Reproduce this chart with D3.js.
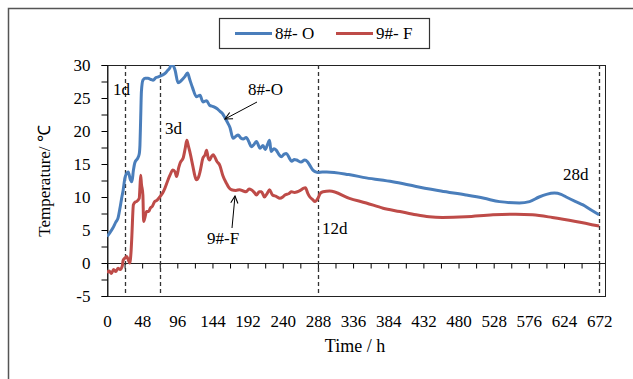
<!DOCTYPE html>
<html>
<head>
<meta charset="utf-8">
<script src="https://cdn.jsdelivr.net/npm/d3@7"></script>
<style>
  body { margin: 0; background: #fff; }
  svg { display: block; font-family: "Liberation Serif", "Times New Roman", serif; }
</style>
</head>
<body>
<script>
// hours and temperatures
var hours8 = [0, 4, 8, 12, 15, 18, 20, 22, 24.5, 27, 29, 32, 34, 36, 38, 42, 44, 45, 46, 47, 49, 52, 56, 60, 63, 67, 70, 76, 80, 83, 86, 88, 91, 93, 97, 102, 106, 110, 113, 117, 122, 127, 131, 136, 140, 145, 150, 154, 158, 161, 165, 168, 172, 176, 179, 183, 186, 190, 194, 197, 201, 204, 209, 213, 216, 219, 222, 224, 228, 231, 235, 238, 242, 245, 249, 252, 256, 259, 265, 270, 274, 278, 281, 285, 288, 294, 300, 330, 354, 390, 422, 456, 490, 515, 536, 563, 577, 590, 600, 611, 620, 627, 640, 650, 660, 672];
var temps8 = [4.0, 4.6, 5.3, 6.2, 6.8, 8.5, 9.8, 11, 12.9, 13.6, 13.8, 12.6, 12.3, 14.0, 15.2, 15.9, 16.5, 17.9, 22, 26, 27.7, 28.0, 28.0, 27.8, 27.7, 28.1, 28.2, 28.5, 28.8, 29.2, 29.6, 30.2, 29.8, 29.2, 27.3, 27.7, 28.2, 28.8, 27.8, 26.5, 25.2, 25.4, 24.4, 24.6, 23.9, 23.7, 23.4, 23.0, 22.6, 22.0, 21.2, 20.5, 18.9, 19.2, 19.4, 18.9, 18.8, 19.0, 18.3, 17.6, 18.0, 18.4, 17.4, 17.8, 17.2, 17.9, 18.6, 16.9, 17.3, 17.1, 16.4, 16.1, 16.5, 16.6, 15.9, 15.4, 15.7, 15.6, 15.3, 15.6, 15.3, 14.6, 14.1, 13.8, 13.7, 13.8, 13.8, 13.4, 12.9, 12.3, 11.6, 10.9, 10.3, 9.8, 9.3, 9.1, 9.3, 10.0, 10.4, 10.6, 10.4, 10.0, 9.3, 8.8, 8.1, 7.3];

var hours9 = [0, 3, 6, 9, 12, 15, 18, 21, 22, 25, 27, 29, 31, 33, 34, 36, 38, 40, 44, 45, 46, 47, 49, 50, 52, 54, 57, 59, 62, 65, 68, 72, 76, 79, 83, 86, 90, 93, 95, 98, 100, 104, 107, 109, 111, 113, 117, 120, 122, 125, 127, 131, 134, 136, 138, 140, 143, 145, 147, 150, 154, 158, 163, 166, 170, 176, 181, 186, 190, 194, 197, 201, 204, 208, 211, 215, 219, 222, 226, 231, 236, 240, 243, 248, 252, 256, 260, 264, 268, 271, 274, 277, 281, 284, 288, 291, 295, 304, 331, 354, 377, 400, 422, 440, 458, 490, 527, 558, 581, 608, 640, 672];
var temps9 = [-1.5, -1.2, -1.6, -1.0, -1.3, -0.8, -1.0, -0.4, 0.4, 0.8, 1.0, 0.5, 0.0, 2.0, 4.2, 8.8, 9.2, 9.3, 9.8, 11.5, 13.3, 12.0, 10.3, 6.3, 7.0, 7.8, 7.8, 8.3, 8.6, 9.3, 9.5, 10.0, 10.6, 11.3, 12.5, 13.3, 14.1, 13.8, 13.1, 14.5, 15.2, 15.9, 17.5, 18.6, 17.8, 16.9, 14.8, 13.2, 12.6, 13.0, 13.8, 15.9, 16.4, 17.1, 16.0, 15.6, 16.2, 16.4, 16.1, 15.4, 14.8, 13.3, 12.1, 11.5, 11.1, 11.0, 11.1, 10.9, 10.8, 11.2, 11.1, 10.7, 10.3, 10.8, 10.8, 10.0, 10.6, 11.1, 10.3, 10.1, 9.8, 10.0, 10.3, 10.5, 10.8, 10.7, 10.8, 11.0, 11.3, 11.4, 10.6, 10.0, 9.6, 9.3, 9.8, 10.5, 10.8, 10.9, 9.8, 9.1, 8.3, 7.8, 7.3, 7.0, 6.9, 7.0, 7.3, 7.4, 7.3, 6.9, 6.3, 5.6];

var seriesNames = ["8#- O", "9#- F"];
var seriesColors = ["#4a7ebb", "#be4b48"];
var xTicks = d3.range(0, 673, 48);
var xMinorTicks = d3.range(0, 673, 24);
var yMinorTicks = d3.range(-5, 30.1, 2.5);
var dayMarks = [24, 72, 288, 672];
var dayLabels = ["1d", "3d", "12d", "28d"];

var width = 633, height = 379;
var plotLeft = 107, plotRight = 605, plotTop = 65, plotBottom = 296;

var svg = d3.select("body").append("svg")
    .attr("width", width)
    .attr("height", height);

// outer chart frame (cut off at right / bottom)
svg.append("path")
    .attr("d", "M8.5," + (height + 5) + "V8.5H" + (width + 5))
    .attr("fill", "none")
    .attr("stroke", "#555")
    .attr("stroke-width", 1.5);

var x = d3.scaleLinear().domain([0, 680]).range([plotLeft, plotRight]);
var y = d3.scaleLinear().domain([-5, 30]).range([plotBottom, plotTop]);

// plot area box
svg.append("rect")
    .attr("x", plotLeft + 0.5)
    .attr("y", plotTop + 0.5)
    .attr("width", plotRight - plotLeft)
    .attr("height", plotBottom - plotTop)
    .attr("fill", "none")
    .attr("stroke", "#222")
    .attr("stroke-width", 1);

// y axis
var yAxis = svg.append("g")
    .attr("transform", "translate(" + (plotLeft + 0.5) + ",0)")
    .call(d3.axisLeft(y)
        .tickValues(yMinorTicks)
        .tickSize(6)
        .tickPadding(11)
        .tickFormat(function(d) { return d % 5 == 0 ? d : ""; }));
yAxis.select(".domain").attr("stroke", "#222");
yAxis.selectAll("text").attr("font-size", 17).attr("fill", "#000")
    .attr("font-family", "Liberation Serif");

// x axis on the zero line, with minor ticks
var xAxis = svg.append("g")
    .attr("transform", "translate(0," + (Math.round(y(0)) + 0.5) + ")")
    .call(d3.axisBottom(x)
        .tickValues(xMinorTicks)
        .tickSize(5)
        .tickSizeOuter(0)
        .tickFormat(""));
xAxis.select(".domain").attr("stroke", "#222").attr("d", "M" + plotLeft + ",0H" + plotRight);

// x tick labels below the plot
var xLabels = svg.append("g")
    .attr("transform", "translate(0," + plotBottom + ")")
    .call(d3.axisBottom(x)
        .tickValues(xTicks)
        .tickSize(0)
        .tickPadding(19));
xLabels.select(".domain").remove();
xLabels.selectAll("text").attr("font-size", 17).attr("fill", "#000")
    .attr("font-family", "Liberation Serif");

// day markers
svg.selectAll(".day")
    .data(dayMarks)
    .enter()
    .append("line")
    .attr("class", "day")
    .attr("x1", function(d) { return Math.round(x(d)) + 0.5; })
    .attr("x2", function(d) { return Math.round(x(d)) + 0.5; })
    .attr("y1", plotTop)
    .attr("y2", plotBottom)
    .attr("stroke", "#333")
    .attr("stroke-width", 1.3)
    .attr("stroke-dasharray", "4,3");

var dayPos = [[113, 95], [165, 134], [322, 234], [563, 180]];
svg.selectAll(".daylabel")
    .data(dayLabels)
    .enter()
    .append("text")
    .attr("class", "daylabel")
    .attr("x", function(d, i) { return dayPos[i][0]; })
    .attr("y", function(d, i) { return dayPos[i][1]; })
    .attr("font-size", 17)
    .text(function(d) { return d; });

// series
svg.append("clipPath").attr("id", "plot")
    .append("rect")
    .attr("x", plotLeft).attr("y", plotTop)
    .attr("width", plotRight - plotLeft).attr("height", plotBottom - plotTop);

var line = d3.line()
    .x(function(d) { return x(d[0]); })
    .y(function(d) { return y(d[1]); })
    .curve(d3.curveMonotoneX);

var series = [d3.zip(hours8, temps8), d3.zip(hours9, temps9)];

svg.append("g")
    .attr("clip-path", "url(#plot)")
    .selectAll("path")
    .data(series)
    .enter()
    .append("path")
    .attr("d", line)
    .attr("fill", "none")
    .attr("stroke", function(d, i) { return seriesColors[i]; })
    .attr("stroke-width", 3)
    .attr("stroke-linejoin", "round");

// annotation arrows
svg.append("defs").append("marker")
    .attr("id", "arrow")
    .attr("viewBox", "0 0 10 10")
    .attr("refX", 9).attr("refY", 5)
    .attr("markerWidth", 9).attr("markerHeight", 9)
    .attr("markerUnits", "userSpaceOnUse")
    .attr("orient", "auto")
    .append("path")
    .attr("d", "M1,1L9,5L1,9")
    .attr("fill", "none")
    .attr("stroke", "#000")
    .attr("stroke-width", 1.2);

var arrows = [[257, 102, 225, 119], [232, 228, 235, 196]];
svg.selectAll(".arrow")
    .data(arrows)
    .enter()
    .append("line")
    .attr("class", "arrow")
    .attr("x1", function(d) { return d[0]; })
    .attr("y1", function(d) { return d[1]; })
    .attr("x2", function(d) { return d[2]; })
    .attr("y2", function(d) { return d[3]; })
    .attr("stroke", "#000")
    .attr("stroke-width", 1)
    .attr("marker-end", "url(#arrow)");

svg.append("text").attr("x", 248).attr("y", 95).attr("font-size", 17).text("8#-O");
svg.append("text").attr("x", 207).attr("y", 244).attr("font-size", 17).text("9#-F");

// axis titles
svg.append("text")
    .attr("x", 355).attr("y", 352)
    .attr("text-anchor", "middle")
    .attr("font-size", 18)
    .text("Time / h");

svg.append("text")
    .attr("transform", "translate(50,181) rotate(-90)")
    .attr("text-anchor", "middle")
    .attr("font-size", 17)
    .text("Temperature/ ℃");

// legend
var legend = svg.append("g");
legend.append("rect")
    .attr("x", 219.5).attr("y", 18.5)
    .attr("width", 210).attr("height", 30)
    .attr("fill", "#fff")
    .attr("stroke", "#333")
    .attr("stroke-width", 1.2);

var legendX = [235, 336];
seriesNames.forEach(function(name, i) {
    legend.append("line")
        .attr("x1", legendX[i]).attr("x2", legendX[i] + 37)
        .attr("y1", 33.5).attr("y2", 33.5)
        .attr("stroke", seriesColors[i])
        .attr("stroke-width", 3);
    legend.append("text")
        .attr("x", legendX[i] + 40).attr("y", 39)
        .attr("font-size", 17)
        .text(name);
});
</script>
</body>
</html>
